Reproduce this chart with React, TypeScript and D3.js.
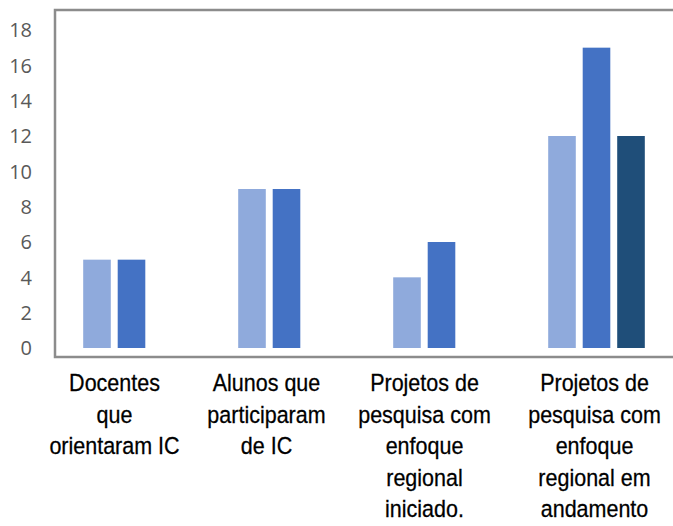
import React from 'react';
import * as d3 from 'd3';

const categories: string[][] = [
  ['Docentes', 'que', 'orientaram IC'],
  ['Alunos que', 'participaram', 'de IC'],
  ['Projetos de', 'pesquisa com', 'enfoque', 'regional', 'iniciado.'],
  ['Projetos de', 'pesquisa com', 'enfoque', 'regional em', 'andamento'],
];
const seriesNames = ['s1', 's2', 's3'];
const series1 = [5, 9, 4, 12];
const series2 = [5, 9, 6, 17];
const series3: (number | null)[] = [null, null, null, 12];
const yTicks = [0, 2, 4, 6, 8, 10, 12, 14, 16, 18];
const colors = ['#8FAADC', '#4472C4', '#1F4E79'];

const width = 673;
const height = 526;
// labels in the original sit a bit left of the bar groups
const labelShift = [-17, -20, -17, -2];

const App: React.FC = () => {
  const keys = categories.map((_, i) => String(i));
  const x0 = d3.scaleBand<string>().domain(keys).range([54, 674]).padding(0);
  const x1 = d3
    .scaleBand<string>()
    .domain(seriesNames)
    .range([0, x0.bandwidth()])
    .paddingInner(0.2)
    .paddingOuter(0.846);
  const y = d3.scaleLinear().domain([0, 18]).range([348, 30]);

  const allSeries = [series1, series2, series3];

  return (
    <svg
      width={width}
      height={height}
      style={{ position: 'absolute', left: 0, top: 0, background: '#fff' }}
    >
      {/* plot frame */}
      <rect x={55} y={10} width={640} height={347} fill="none" stroke="#8c8c8c" strokeWidth={2.5} />

      {/* y tick labels */}
      {yTicks.map((t) => (
        <text
          key={t}
          x={32}
          y={y(t)}
          dy="0.36em"
          textAnchor="end"
          fontFamily="'Open Sans', 'Liberation Sans', sans-serif"
          fontSize={20}
          fill="#595959"
        >
          {t}
        </text>
      ))}

      {/* bars */}
      {keys.map((k, ci) => (
        <g key={k} transform={`translate(${x0(k)},0)`}>
          {allSeries.map((s, si) => {
            const v = s[ci];
            if (v === null || v === undefined) return null;
            return (
              <rect
                key={si}
                x={x1(seriesNames[si])}
                y={y(v)}
                width={x1.bandwidth()}
                height={y(0) - y(v)}
                fill={colors[si]}
              />
            );
          })}
        </g>
      ))}

      {/* category labels */}
      {categories.map((lines, ci) => {
        const cx = (x0(keys[ci]) as number) + x0.bandwidth() / 2 + labelShift[ci];
        return (
          <g key={ci} transform={`translate(${cx},0) scale(1,1.1)`}>
            {lines.map((ln, li) => (
              <text
                key={li}
                x={0}
                y={(391.5 + li * 31.5) / 1.1}
                textAnchor="middle"
                fontFamily="'Liberation Sans', Arial, sans-serif"
                fontSize={21.5}
                fill="#000"
                stroke="#000"
                strokeWidth={0.25}
              >
                {ln}
              </text>
            ))}
          </g>
        );
      })}
    </svg>
  );
};

export default App;
